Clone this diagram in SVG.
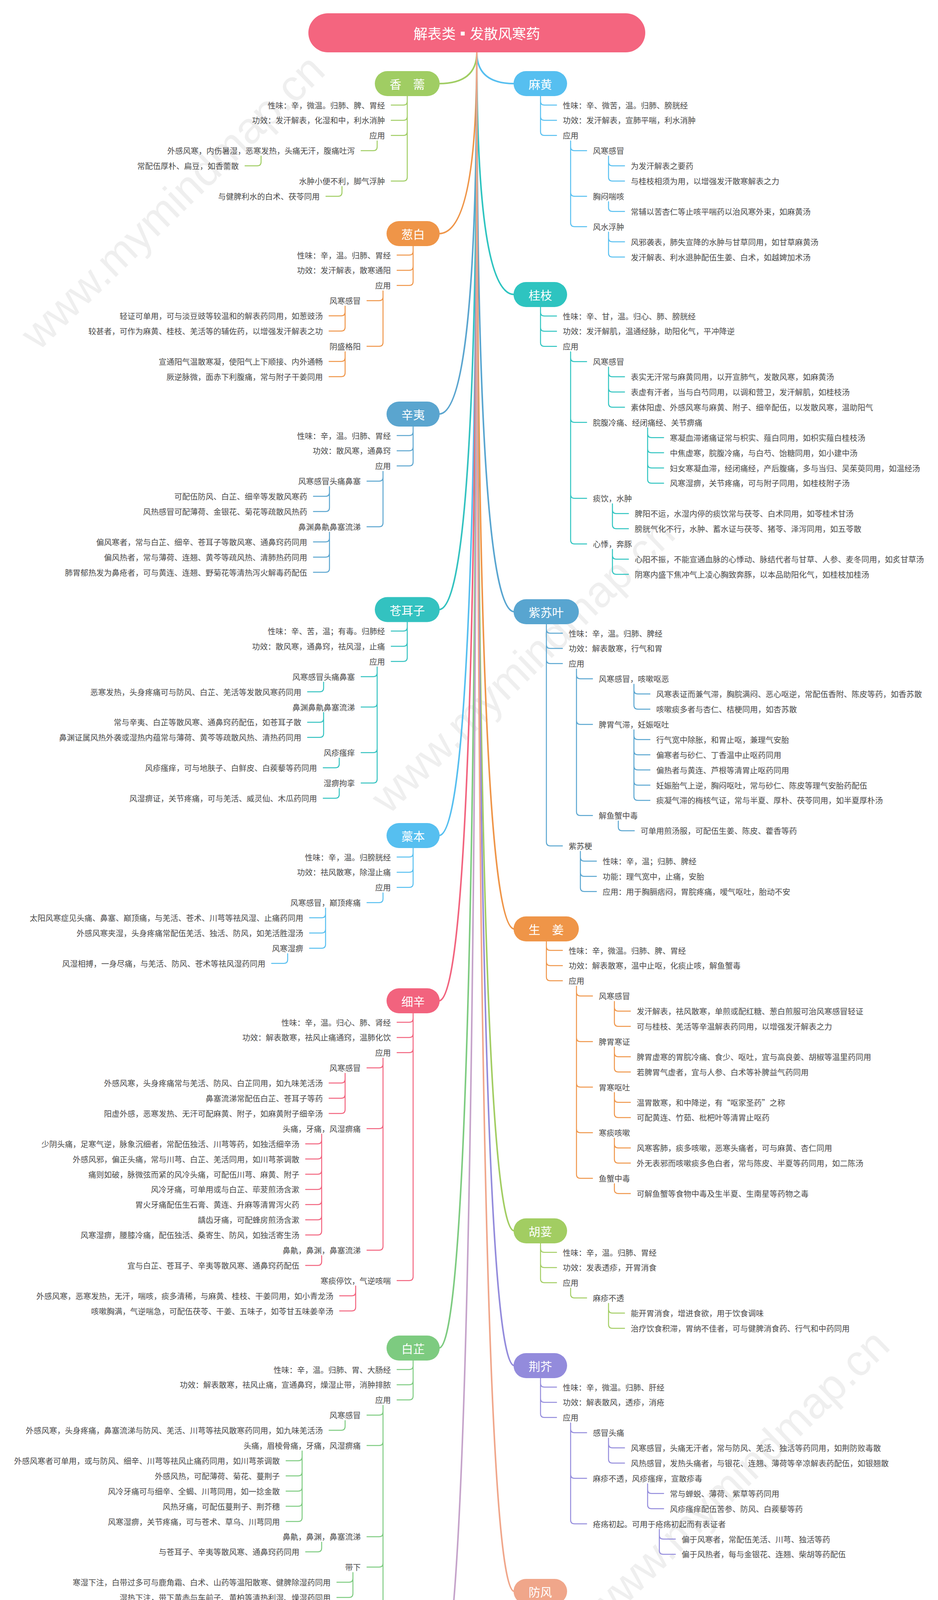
<svg xmlns="http://www.w3.org/2000/svg" width="2400" height="4963" viewBox="0 0 2400 4963">
<style>
text{font-family:"Noto Sans CJK SC","Noto Sans CJK JP",sans-serif;font-size:20px;fill:#4a4a4a;dominant-baseline:central}
.L{text-anchor:end}
.R{text-anchor:start}
.lb{font-size:30px;fill:#fff;text-anchor:middle}
.ttl{font-size:36px;fill:#fff;text-anchor:middle}
.ft{font-size:26px;fill:#fff;text-anchor:middle}
.wm{font-family:"Liberation Sans",Arial,sans-serif;font-size:112px;fill:#efefef;text-anchor:middle}
.br{fill:none;stroke-width:2.5;stroke-linecap:round;stroke-linejoin:round}
.cn{fill:none;stroke-width:4;stroke-linecap:round}
</style>
<rect width="2400" height="4963" fill="#ffffff"/>
<g id="watermark">
<text class="wm" transform="translate(441 516) rotate(-44)">www.mymindmap.cn</text>
<text class="wm" transform="translate(1337 1703) rotate(-44)">www.mymindmap.cn</text>
<text class="wm" transform="translate(1886 3780) rotate(-44)">www.mymindmap.cn</text>
</g>
<g id="connectors">
<g class="cn">
<path stroke="#a0cd63" d="M1220 134Q1220 214 1123 214"/>
<path stroke="#ef9548" d="M1220 134Q1220 598 1123 598"/>
<path stroke="#5aa5cf" d="M1220 134Q1220 1060 1123 1060"/>
<path stroke="#33c2c0" d="M1220 134Q1220 1560.5 1123 1560.5"/>
<path stroke="#56bff0" d="M1220 134Q1220 2139 1123 2139"/>
<path stroke="#f2637e" d="M1220 134Q1220 2562 1123 2562"/>
<path stroke="#7dcb80" d="M1220 134Q1220 3451 1123 3451"/>
<path stroke="#c5a3ca" d="M1220 134Q1220 4301 1123 4301"/>
<path stroke="#56bff0" d="M1220 134Q1220 214 1316 214"/>
<path stroke="#2ec4c0" d="M1220 134Q1220 754 1316 754"/>
<path stroke="#58a5d0" d="M1220 134Q1220 1566 1316 1566"/>
<path stroke="#ef9548" d="M1220 134Q1220 2378 1316 2378"/>
<path stroke="#a2cd62" d="M1220 134Q1220 3151 1316 3151"/>
<path stroke="#938bdc" d="M1220 134Q1220 3496 1316 3496"/>
<path stroke="#f0a68a" d="M1220 134Q1220 4074 1316 4074"/>
</g>
<g class="br" stroke="#56bff0" id="br-mahuang">
<path d="M1383 246V336.8M1383 259Q1383 269 1393 269H1424M1383 297.9Q1383 307.9 1393 307.9H1424M1383 336.8Q1383 346.8 1393 346.8H1424"/>
<path d="M1460 360.8V570.2M1460 375.7Q1460 385.7 1470 385.7H1501M1460 492.4Q1460 502.4 1470 502.4H1501M1460 570.2Q1460 580.2 1470 580.2H1501"/>
<path d="M1557 399.7V453.5M1557 414.6Q1557 424.6 1567 424.6H1598M1557 453.5Q1557 463.5 1567 463.5H1598"/>
<path d="M1557 516.4V531.3Q1557 541.3 1567 541.3H1598"/>
<path d="M1557 594.2V648M1557 609.1Q1557 619.1 1567 619.1H1598M1557 648Q1557 658 1567 658H1598"/>
</g>
<g class="br" stroke="#2ec4c0" id="br-guizhi">
<path d="M1383 786V876.8M1383 799Q1383 809 1393 809H1424M1383 837.9Q1383 847.9 1393 847.9H1424M1383 876.8Q1383 886.8 1393 886.8H1424"/>
<path d="M1460 900.8V1382.5M1460 915.7Q1460 925.7 1470 925.7H1501M1460 1071.3Q1460 1081.3 1470 1081.3H1501M1460 1265.8Q1460 1275.8 1470 1275.8H1501M1460 1382.5Q1460 1392.5 1470 1392.5H1501"/>
<path d="M1557 939.7V1032.4M1557 954.6Q1557 964.6 1567 964.6H1598M1557 993.5Q1557 1003.5 1567 1003.5H1598M1557 1032.4Q1557 1042.4 1567 1042.4H1598"/>
<path d="M1657 1095.3V1226.9M1657 1110.2Q1657 1120.2 1667 1120.2H1698M1657 1149.1Q1657 1159.1 1667 1159.1H1698M1657 1188Q1657 1198 1667 1198H1698M1657 1226.9Q1657 1236.9 1667 1236.9H1698"/>
<path d="M1567 1289.8V1343.6M1567 1304.7Q1567 1314.7 1577 1314.7H1608M1567 1343.6Q1567 1353.6 1577 1353.6H1608"/>
<path d="M1567 1406.5V1460.3M1567 1421.4Q1567 1431.4 1577 1431.4H1608M1567 1460.3Q1567 1470.3 1577 1470.3H1608"/>
</g>
<g class="br" stroke="#58a5d0" id="br-zisuye">
<path d="M1398 1598V2155.6M1398 1611Q1398 1621 1408 1621H1439M1398 1649.9Q1398 1659.9 1408 1659.9H1439M1398 1688.8Q1398 1698.8 1408 1698.8H1439M1398 2155.6Q1398 2165.6 1408 2165.6H1439"/>
<path d="M1475 1712.8V2077.8M1475 1727.7Q1475 1737.7 1485 1737.7H1516M1475 1844.4Q1475 1854.4 1485 1854.4H1516M1475 2077.8Q1475 2087.8 1485 2087.8H1516"/>
<path d="M1622 1751.7V1805.5M1622 1766.6Q1622 1776.6 1632 1776.6H1663M1622 1805.5Q1622 1815.5 1632 1815.5H1663"/>
<path d="M1622 1868.4V2038.9M1622 1883.3Q1622 1893.3 1632 1893.3H1663M1622 1922.2Q1622 1932.2 1632 1932.2H1663M1622 1961.1Q1622 1971.1 1632 1971.1H1663M1622 2000Q1622 2010 1632 2010H1663M1622 2038.9Q1622 2048.9 1632 2048.9H1663"/>
<path d="M1582 2101.8V2116.7Q1582 2126.7 1592 2126.7H1623"/>
<path d="M1485 2179.6V2272.3M1485 2194.5Q1485 2204.5 1495 2204.5H1526M1485 2233.4Q1485 2243.4 1495 2243.4H1526M1485 2272.3Q1485 2282.3 1495 2282.3H1526"/>
</g>
<g class="br" stroke="#ef9548" id="br-shengjiang">
<path d="M1398 2410V2500.8M1398 2423Q1398 2433 1408 2433H1439M1398 2461.9Q1398 2471.9 1408 2471.9H1439M1398 2500.8Q1398 2510.8 1408 2510.8H1439"/>
<path d="M1475 2524.8V3006.5M1475 2539.7Q1475 2549.7 1485 2549.7H1516M1475 2656.4Q1475 2666.4 1485 2666.4H1516M1475 2773.1Q1475 2783.1 1485 2783.1H1516M1475 2889.8Q1475 2899.8 1485 2899.8H1516M1475 3006.5Q1475 3016.5 1485 3016.5H1516"/>
<path d="M1572 2563.7V2617.5M1572 2578.6Q1572 2588.6 1582 2588.6H1613M1572 2617.5Q1572 2627.5 1582 2627.5H1613"/>
<path d="M1572 2680.4V2734.2M1572 2695.3Q1572 2705.3 1582 2705.3H1613M1572 2734.2Q1572 2744.2 1582 2744.2H1613"/>
<path d="M1572 2797.1V2850.9M1572 2812Q1572 2822 1582 2822H1613M1572 2850.9Q1572 2860.9 1582 2860.9H1613"/>
<path d="M1572 2913.8V2967.6M1572 2928.7Q1572 2938.7 1582 2938.7H1613M1572 2967.6Q1572 2977.6 1582 2977.6H1613"/>
<path d="M1572 3030.5V3045.4Q1572 3055.4 1582 3055.4H1613"/>
</g>
<g class="br" stroke="#a2cd62" id="br-husui">
<path d="M1383 3183V3273.8M1383 3196Q1383 3206 1393 3206H1424M1383 3234.9Q1383 3244.9 1393 3244.9H1424M1383 3273.8Q1383 3283.8 1393 3283.8H1424"/>
<path d="M1460 3297.8V3312.7Q1460 3322.7 1470 3322.7H1501"/>
<path d="M1557 3336.7V3390.5M1557 3351.6Q1557 3361.6 1567 3361.6H1598M1557 3390.5Q1557 3400.5 1567 3400.5H1598"/>
</g>
<g class="br" stroke="#938bdc" id="br-jingjie">
<path d="M1383 3528V3618.8M1383 3541Q1383 3551 1393 3551H1424M1383 3579.9Q1383 3589.9 1393 3589.9H1424M1383 3618.8Q1383 3628.8 1393 3628.8H1424"/>
<path d="M1460 3642.8V3891.1M1460 3657.7Q1460 3667.7 1470 3667.7H1501M1460 3774.4Q1460 3784.4 1470 3784.4H1501M1460 3891.1Q1460 3901.1 1470 3901.1H1501"/>
<path d="M1557 3681.7V3735.5M1557 3696.6Q1557 3706.6 1567 3706.6H1598M1557 3735.5Q1557 3745.5 1567 3745.5H1598"/>
<path d="M1657 3798.4V3852.2M1657 3813.3Q1657 3823.3 1667 3823.3H1698M1657 3852.2Q1657 3862.2 1667 3862.2H1698"/>
<path d="M1687 3915.1V3968.9M1687 3930Q1687 3940 1697 3940H1728M1687 3968.9Q1687 3978.9 1697 3978.9H1728"/>
</g>
<g class="br" stroke="#f0a68a" id="br-fangfeng">
<path d="M1383 4106V4196.8M1383 4119Q1383 4129 1393 4129H1424M1383 4157.9Q1383 4167.9 1393 4167.9H1424M1383 4196.8Q1383 4206.8 1393 4206.8H1424"/>
<path d="M1460 4220.8V4780.3M1460 4235.7Q1460 4245.7 1470 4245.7H1501M1460 4430.2Q1460 4440.2 1470 4440.2H1501M1460 4546.9Q1460 4556.9 1470 4556.9H1501M1460 4780.3Q1460 4790.3 1470 4790.3H1501"/>
<path d="M1557 4259.7V4391.3M1557 4274.6Q1557 4284.6 1567 4284.6H1598M1557 4313.5Q1557 4323.5 1567 4323.5H1598M1557 4352.4Q1557 4362.4 1567 4362.4H1598M1557 4391.3Q1557 4401.3 1567 4401.3H1598"/>
<path d="M1557 4454.2V4508M1557 4469.1Q1557 4479.1 1567 4479.1H1598M1557 4508Q1557 4518 1567 4518H1598"/>
<path d="M1557 4570.9V4741.4M1557 4585.8Q1557 4595.8 1567 4595.8H1598M1557 4624.7Q1557 4634.7 1567 4634.7H1598M1557 4663.6Q1557 4673.6 1567 4673.6H1598M1557 4702.5Q1557 4712.5 1567 4712.5H1598M1557 4741.4Q1557 4751.4 1567 4751.4H1598"/>
<path d="M1547 4804.3V4819.2Q1547 4829.2 1557 4829.2H1588"/>
</g>
<g class="br" stroke="#a0cd63" id="br-xiangru">
<path d="M1042 246V453.5M1042 259Q1042 269 1032 269H1001M1042 297.9Q1042 307.9 1032 307.9H1001M1042 336.8Q1042 346.8 1032 346.8H1001M1042 453.5Q1042 463.5 1032 463.5H1001"/>
<path d="M965 360.8V375.7Q965 385.7 955 385.7H924"/>
<path d="M668 399.7V414.6Q668 424.6 658 424.6H627"/>
<path d="M875 477.5V492.4Q875 502.4 865 502.4H834"/>
</g>
<g class="br" stroke="#ef9548" id="br-congbai">
<path d="M1057 630V720.8M1057 643Q1057 653 1047 653H1016M1057 681.9Q1057 691.9 1047 691.9H1016M1057 720.8Q1057 730.8 1047 730.8H1016"/>
<path d="M980 744.8V876.4M980 759.7Q980 769.7 970 769.7H939M980 876.4Q980 886.4 970 886.4H939"/>
<path d="M883 783.7V837.5M883 798.6Q883 808.6 873 808.6H842M883 837.5Q883 847.5 873 847.5H842"/>
<path d="M883 900.4V954.2M883 915.3Q883 925.3 873 925.3H842M883 954.2Q883 964.2 873 964.2H842"/>
</g>
<g class="br" stroke="#5aa5cf" id="br-xinyi">
<path d="M1057 1092V1182.8M1057 1105Q1057 1115 1047 1115H1016M1057 1143.9Q1057 1153.9 1047 1153.9H1016M1057 1182.8Q1057 1192.8 1047 1192.8H1016"/>
<path d="M980 1206.8V1338.4M980 1221.7Q980 1231.7 970 1231.7H939M980 1338.4Q980 1348.4 970 1348.4H939"/>
<path d="M843 1245.7V1299.5M843 1260.6Q843 1270.6 833 1270.6H802M843 1299.5Q843 1309.5 833 1309.5H802"/>
<path d="M843 1362.4V1455.1M843 1377.3Q843 1387.3 833 1387.3H802M843 1416.2Q843 1426.2 833 1426.2H802M843 1455.1Q843 1465.1 833 1465.1H802"/>
</g>
<g class="br" stroke="#33c2c0" id="br-cangerzi">
<path d="M1042 1592.5V1683.3M1042 1605.5Q1042 1615.5 1032 1615.5H1001M1042 1644.4Q1042 1654.4 1032 1654.4H1001M1042 1683.3Q1042 1693.3 1032 1693.3H1001"/>
<path d="M965 1707.3V1994.5M965 1722.2Q965 1732.2 955 1732.2H924M965 1800Q965 1810 955 1810H924M965 1916.7Q965 1926.7 955 1926.7H924M965 1994.5Q965 2004.5 955 2004.5H924"/>
<path d="M828 1746.2V1761.1Q828 1771.1 818 1771.1H787"/>
<path d="M828 1824V1877.8M828 1838.9Q828 1848.9 818 1848.9H787M828 1877.8Q828 1887.8 818 1887.8H787"/>
<path d="M868 1940.7V1955.6Q868 1965.6 858 1965.6H827"/>
<path d="M868 2018.5V2033.4Q868 2043.4 858 2043.4H827"/>
</g>
<g class="br" stroke="#56bff0" id="br-gaoben">
<path d="M1057 2171V2261.8M1057 2184Q1057 2194 1047 2194H1016M1057 2222.9Q1057 2232.9 1047 2232.9H1016M1057 2261.8Q1057 2271.8 1047 2271.8H1016"/>
<path d="M980 2285.8V2300.7Q980 2310.7 970 2310.7H939"/>
<path d="M833 2324.7V2417.4M833 2339.6Q833 2349.6 823 2349.6H792M833 2378.5Q833 2388.5 823 2388.5H792M833 2417.4Q833 2427.4 823 2427.4H792"/>
<path d="M736 2441.4V2456.3Q736 2466.3 726 2466.3H695"/>
</g>
<g class="br" stroke="#f2637e" id="br-xixin">
<path d="M1057 2594V3268.3M1057 2607Q1057 2617 1047 2617H1016M1057 2645.9Q1057 2655.9 1047 2655.9H1016M1057 2684.8Q1057 2694.8 1047 2694.8H1016M1057 3268.3Q1057 3278.3 1047 3278.3H1016"/>
<path d="M980 2708.8V3190.5M980 2723.7Q980 2733.7 970 2733.7H939M980 2879.3Q980 2889.3 970 2889.3H939M980 3190.5Q980 3200.5 970 3200.5H939"/>
<path d="M883 2747.7V2840.4M883 2762.6Q883 2772.6 873 2772.6H842M883 2801.5Q883 2811.5 873 2811.5H842M883 2840.4Q883 2850.4 873 2850.4H842"/>
<path d="M823 2903.3V3151.6M823 2918.2Q823 2928.2 813 2928.2H782M823 2957.1Q823 2967.1 813 2967.1H782M823 2996Q823 3006 813 3006H782M823 3034.9Q823 3044.9 813 3044.9H782M823 3073.8Q823 3083.8 813 3083.8H782M823 3112.7Q823 3122.7 813 3122.7H782M823 3151.6Q823 3161.6 813 3161.6H782"/>
<path d="M823 3214.5V3229.4Q823 3239.4 813 3239.4H782"/>
<path d="M910 3292.3V3346.1M910 3307.2Q910 3317.2 900 3317.2H869M910 3346.1Q910 3356.1 900 3356.1H869"/>
</g>
<g class="br" stroke="#7dcb80" id="br-baizhi">
<path d="M1057 3483V3573.8M1057 3496Q1057 3506 1047 3506H1016M1057 3534.9Q1057 3544.9 1047 3544.9H1016M1057 3573.8Q1057 3583.8 1047 3583.8H1016"/>
<path d="M980 3597.8V4118.4M980 3612.7Q980 3622.7 970 3622.7H939M980 3690.5Q980 3700.5 970 3700.5H939M980 3923.9Q980 3933.9 970 3933.9H939M980 4001.7Q980 4011.7 970 4011.7H939M980 4118.4Q980 4128.4 970 4128.4H939"/>
<path d="M883 3636.7V3651.6Q883 3661.6 873 3661.6H842"/>
<path d="M773 3714.5V3885M773 3729.4Q773 3739.4 763 3739.4H732M773 3768.3Q773 3778.3 763 3778.3H732M773 3807.2Q773 3817.2 763 3817.2H732M773 3846.1Q773 3856.1 763 3856.1H732M773 3885Q773 3895 763 3895H732"/>
<path d="M823 3947.9V3962.8Q823 3972.8 813 3972.8H782"/>
<path d="M903 4025.7V4079.5M903 4040.6Q903 4050.6 893 4050.6H862M903 4079.5Q903 4089.5 893 4089.5H862"/>
<path d="M883 4142.4V4196.2M883 4157.3Q883 4167.3 873 4167.3H842M883 4196.2Q883 4206.2 873 4206.2H842"/>
</g>
<g class="br" stroke="#c5a3ca" id="br-qianghuo">
<path d="M1057 4333V4423.8M1057 4346Q1057 4356 1047 4356H1016M1057 4384.9Q1057 4394.9 1047 4394.9H1016M1057 4423.8Q1057 4433.8 1047 4433.8H1016"/>
<path d="M980 4447.8V4579.4M980 4462.7Q980 4472.7 970 4472.7H939M980 4579.4Q980 4589.4 970 4589.4H939"/>
<path d="M833 4486.7V4540.5M833 4501.6Q833 4511.6 823 4511.6H792M833 4540.5Q833 4550.5 823 4550.5H792"/>
<path d="M833 4603.4V4657.2M833 4618.3Q833 4628.3 823 4628.3H792M833 4657.2Q833 4667.2 823 4667.2H792"/>
</g>
</g>
<g id="root">
<rect x="789" y="34" width="862" height="100" rx="50" fill="#f4657f"/>
<text class="ttl" x="1220" y="84">解表类▪发散风寒药</text>
</g>
<g id="n-mahuang" class="R">
<rect x="1314" y="182" width="137" height="64" rx="32" fill="#56bff0"/>
<text class="lb" x="1382.5" y="214">麻黄</text>
<text x="1440" y="269">性味：辛、微苦，温。归肺、膀胱经</text>
<text x="1440" y="307.9">功效：发汗解表，宣肺平喘，利水消肿</text>
<text x="1440" y="346.8">应用</text>
<text x="1517" y="385.7">风寒感冒</text>
<text x="1614" y="424.6">为发汗解表之要药</text>
<text x="1614" y="463.5">与桂枝相须为用，以增强发汗散寒解表之力</text>
<text x="1517" y="502.4">胸闷喘咳</text>
<text x="1614" y="541.3">常辅以苦杏仁等止咳平喘药以治风寒外束，如麻黄汤</text>
<text x="1517" y="580.2">风水浮肿</text>
<text x="1614" y="619.1">风邪袭表，肺失宣降的水肿与甘草同用，如甘草麻黄汤</text>
<text x="1614" y="658">发汗解表、利水退肿配伍生姜、白术，如越婢加术汤</text>
</g>
<g id="n-guizhi" class="R">
<rect x="1314" y="722" width="137" height="64" rx="32" fill="#2ec4c0"/>
<text class="lb" x="1382.5" y="754">桂枝</text>
<text x="1440" y="809">性味：辛、甘，温。归心、肺、膀胱经</text>
<text x="1440" y="847.9">功效：发汗解肌，温通经脉，助阳化气，平冲降逆</text>
<text x="1440" y="886.8">应用</text>
<text x="1517" y="925.7">风寒感冒</text>
<text x="1614" y="964.6">表实无汗常与麻黄同用，以开宣肺气，发散风寒，如麻黄汤</text>
<text x="1614" y="1003.5">表虚有汗者，当与白芍同用，以调和营卫，发汗解肌，如桂枝汤</text>
<text x="1614" y="1042.4">素体阳虚、外感风寒与麻黄、附子、细辛配伍，以发散风寒，温助阳气</text>
<text x="1517" y="1081.3">脘腹冷痛、经闭痛经、关节痹痛</text>
<text x="1714" y="1120.2">寒凝血滞诸痛证常与枳实、薤白同用，如枳实薤白桂枝汤</text>
<text x="1714" y="1159.1">中焦虚寒，脘腹冷痛，与白芍、饴糖同用，如小建中汤</text>
<text x="1714" y="1198">妇女寒凝血滞，经闭痛经，产后腹痛，多与当归、吴茱萸同用，如温经汤</text>
<text x="1714" y="1236.9">风寒湿痹，关节疼痛，可与附子同用，如桂枝附子汤</text>
<text x="1517" y="1275.8">痰饮，水肿</text>
<text x="1624" y="1314.7">脾阳不运，水湿内停的痰饮常与茯苓、白术同用，如苓桂术甘汤</text>
<text x="1624" y="1353.6">膀胱气化不行，水肿、蓄水证与茯苓、猪苓、泽泻同用，如五苓散</text>
<text x="1517" y="1392.5">心悸，奔豚</text>
<text x="1624" y="1431.4">心阳不振，不能宣通血脉的心悸动、脉结代者与甘草、人参、麦冬同用，如炙甘草汤</text>
<text x="1624" y="1470.3">阴寒内盛下焦冲气上凌心胸致奔豚，以本品助阳化气，如桂枝加桂汤</text>
</g>
<g id="n-zisuye" class="R">
<rect x="1314" y="1534" width="167" height="64" rx="32" fill="#58a5d0"/>
<text class="lb" x="1397.5" y="1566">紫苏叶</text>
<text x="1455" y="1621">性味：辛，温。归肺、脾经</text>
<text x="1455" y="1659.9">功效：解表散寒，行气和胃</text>
<text x="1455" y="1698.8">应用</text>
<text x="1532" y="1737.7">风寒感冒，咳嗽呕恶</text>
<text x="1679" y="1776.6">风寒表证而兼气滞，胸脘满闷、恶心呕逆，常配伍香附、陈皮等药，如香苏散</text>
<text x="1679" y="1815.5">咳嗽痰多者与杏仁、桔梗同用，如杏苏散</text>
<text x="1532" y="1854.4">脾胃气滞，妊娠呕吐</text>
<text x="1679" y="1893.3">行气宽中除胀，和胃止呕，兼理气安胎</text>
<text x="1679" y="1932.2">偏寒者与砂仁、丁香温中止呕药同用</text>
<text x="1679" y="1971.1">偏热者与黄连、芦根等清胃止呕药同用</text>
<text x="1679" y="2010">妊娠胎气上逆，胸闷呕吐，常与砂仁、陈皮等理气安胎药配伍</text>
<text x="1679" y="2048.9">痰凝气滞的梅核气证，常与半夏、厚朴、茯苓同用，如半夏厚朴汤</text>
<text x="1532" y="2087.8">解鱼蟹中毒</text>
<text x="1639" y="2126.7">可单用煎汤服，可配伍生姜、陈皮、藿香等药</text>
<text x="1455" y="2165.6">紫苏梗</text>
<text x="1542" y="2204.5">性味：辛，温；归肺、脾经</text>
<text x="1542" y="2243.4">功能：理气宽中，止痛，安胎</text>
<text x="1542" y="2282.3">应用：用于胸膈痞闷，胃脘疼痛，嗳气呕吐，胎动不安</text>
</g>
<g id="n-shengjiang" class="R">
<rect x="1314" y="2346" width="167" height="64" rx="32" fill="#ef9548"/>
<text class="lb" x="1397.5" y="2378">生　姜</text>
<text x="1455" y="2433">性味：辛，微温。归肺、脾、胃经</text>
<text x="1455" y="2471.9">功效：解表散寒，温中止呕，化痰止咳，解鱼蟹毒</text>
<text x="1455" y="2510.8">应用</text>
<text x="1532" y="2549.7">风寒感冒</text>
<text x="1629" y="2588.6">发汗解表，祛风散寒，单煎或配红糖、葱白煎服可治风寒感冒轻证</text>
<text x="1629" y="2627.5">可与桂枝、羌活等辛温解表药同用，以增强发汗解表之力</text>
<text x="1532" y="2666.4">脾胃寒证</text>
<text x="1629" y="2705.3">脾胃虚寒的胃脘冷痛、食少、呕吐，宜与高良姜、胡椒等温里药同用</text>
<text x="1629" y="2744.2">若脾胃气虚者，宜与人参、白术等补脾益气药同用</text>
<text x="1532" y="2783.1">胃寒呕吐</text>
<text x="1629" y="2822">温胃散寒，和中降逆，有“呕家圣药”之称</text>
<text x="1629" y="2860.9">可配黄连、竹茹、枇杷叶等清胃止呕药</text>
<text x="1532" y="2899.8">寒痰咳嗽</text>
<text x="1629" y="2938.7">风寒客肺，痰多咳嗽，恶寒头痛者，可与麻黄、杏仁同用</text>
<text x="1629" y="2977.6">外无表邪而咳嗽痰多色白者，常与陈皮、半夏等药同用，如二陈汤</text>
<text x="1532" y="3016.5">鱼蟹中毒</text>
<text x="1629" y="3055.4">可解鱼蟹等食物中毒及生半夏、生南星等药物之毒</text>
</g>
<g id="n-husui" class="R">
<rect x="1314" y="3119" width="137" height="64" rx="32" fill="#a2cd62"/>
<text class="lb" x="1382.5" y="3151">胡荽</text>
<text x="1440" y="3206">性味：辛，温。归肺、胃经</text>
<text x="1440" y="3244.9">功效：发表透疹，开胃消食</text>
<text x="1440" y="3283.8">应用</text>
<text x="1517" y="3322.7">麻疹不透</text>
<text x="1614" y="3361.6">能开胃消食，增进食欲，用于饮食调味</text>
<text x="1614" y="3400.5">治疗饮食积滞，胃纳不佳者，可与健脾消食药、行气和中药同用</text>
</g>
<g id="n-jingjie" class="R">
<rect x="1314" y="3464" width="137" height="64" rx="32" fill="#938bdc"/>
<text class="lb" x="1382.5" y="3496">荆芥</text>
<text x="1440" y="3551">性味：辛，微温。归肺、肝经</text>
<text x="1440" y="3589.9">功效：解表散风，透疹，消疮</text>
<text x="1440" y="3628.8">应用</text>
<text x="1517" y="3667.7">感冒头痛</text>
<text x="1614" y="3706.6">风寒感冒，头痛无汗者，常与防风、羌活、独活等药同用，如荆防败毒散</text>
<text x="1614" y="3745.5">风热感冒，发热头痛者，与银花、连翘、薄荷等辛凉解表药配伍，如银翘散</text>
<text x="1517" y="3784.4">麻疹不透，风疹瘙痒，宣散疹毒</text>
<text x="1714" y="3823.3">常与蝉蜕、薄荷、紫草等药同用</text>
<text x="1714" y="3862.2">风疹瘙痒配伍苦参、防风、白蒺藜等药</text>
<text x="1517" y="3901.1">疮疡初起。可用于疮疡初起而有表证者</text>
<text x="1744" y="3940">偏于风寒者，常配伍羌活、川芎、独活等药</text>
<text x="1744" y="3978.9">偏于风热者，每与金银花、连翘、柴胡等药配伍</text>
</g>
<g id="n-fangfeng" class="R">
<rect x="1314" y="4042" width="137" height="64" rx="32" fill="#f0a68a"/>
<text class="lb" x="1382.5" y="4074">防风</text>
<text x="1440" y="4129">性味：辛、甘，微温。归膀胱、肝、脾经</text>
<text x="1440" y="4167.9">功效：祛风解表，胜湿止痛，止痉</text>
<text x="1440" y="4206.8">应用</text>
<text x="1517" y="4245.7">感冒头痛</text>
<text x="1614" y="4284.6">风寒表证，头痛身痛恶风寒者，配荆芥、羌活、独活同用，如荆防败毒散</text>
<text x="1614" y="4323.5">外感风湿，头痛如裹、身重肢痛与羌活、藁本、川芎同用，如羌活胜湿汤</text>
<text x="1614" y="4362.4">风热感冒，发热恶风、头痛、咽痛口渴，配薄荷、蝉蜕、连翘等辛凉解表药</text>
<text x="1614" y="4401.3">卫气不足，肌表不固的外感风邪，与黄芪、白术益卫固表药同用，如玉屏风散</text>
<text x="1517" y="4440.2">风湿痹痛</text>
<text x="1614" y="4479.1">肢节疼痛可配羌活、独活、姜黄等祛风湿、止痹痛药，如蠲痹汤</text>
<text x="1614" y="4518">风寒湿邪郁而化热，关节红肿热痛，可与地龙、薏苡仁、乌梢蛇同用</text>
<text x="1517" y="4556.9">风疹瘙痒</text>
<text x="1614" y="4595.8">风寒者，常与麻黄、白芷、苍耳子等配伍，如消风散</text>
<text x="1614" y="4634.7">风热者，常配伍薄荷、蝉蜕、僵蚕等药</text>
<text x="1614" y="4673.6">湿热者，与土茯苓、白鲜皮、赤小豆等同用</text>
<text x="1614" y="4712.5">血虚风燥者，常与当归、地黄等配伍，如消风散</text>
<text x="1614" y="4751.4">里实热结者，常配伍大黄、芒硝、黄芩等药，如防风通圣散</text>
<text x="1517" y="4790.3">破伤风</text>
<text x="1604" y="4829.2">常与天麻、天南星、白附子等祛风止痉药同用，如玉真散</text>
</g>
<g id="n-xiangru" class="L">
<rect x="959" y="182" width="166" height="64" rx="32" fill="#a0cd63"/>
<text class="lb" x="1042" y="214">香　薷</text>
<text x="985" y="269">性味：辛，微温。归肺、脾、胃经</text>
<text x="985" y="307.9">功效：发汗解表，化湿和中，利水消肿</text>
<text x="985" y="346.8">应用</text>
<text x="908" y="385.7">外感风寒，内伤暑湿，恶寒发热，头痛无汗，腹痛吐泻</text>
<text x="611" y="424.6">常配伍厚朴、扁豆，如香薷散</text>
<text x="985" y="463.5">水肿小便不利，脚气浮肿</text>
<text x="818" y="502.4">与健脾利水的白术、茯苓同用</text>
</g>
<g id="n-congbai" class="L">
<rect x="989" y="566" width="136" height="64" rx="32" fill="#ef9548"/>
<text class="lb" x="1057" y="598">葱白</text>
<text x="1000" y="653">性味：辛，温。归肺、胃经</text>
<text x="1000" y="691.9">功效：发汗解表，散寒通阳</text>
<text x="1000" y="730.8">应用</text>
<text x="923" y="769.7">风寒感冒</text>
<text x="826" y="808.6">轻证可单用，可与淡豆豉等较温和的解表药同用，如葱豉汤</text>
<text x="826" y="847.5">较甚者，可作为麻黄、桂枝、羌活等的辅佐药，以增强发汗解表之功</text>
<text x="923" y="886.4">阴盛格阳</text>
<text x="826" y="925.3">宣通阳气温散寒凝，使阳气上下顺接、内外通畅</text>
<text x="826" y="964.2">厥逆脉微，面赤下利腹痛，常与附子干姜同用</text>
</g>
<g id="n-xinyi" class="L">
<rect x="989" y="1028" width="136" height="64" rx="32" fill="#5aa5cf"/>
<text class="lb" x="1057" y="1060">辛夷</text>
<text x="1000" y="1115">性味：辛，温。归肺、胃经</text>
<text x="1000" y="1153.9">功效：散风寒，通鼻窍</text>
<text x="1000" y="1192.8">应用</text>
<text x="923" y="1231.7">风寒感冒头痛鼻塞</text>
<text x="786" y="1270.6">可配伍防风、白芷、细辛等发散风寒药</text>
<text x="786" y="1309.5">风热感冒可配薄荷、金银花、菊花等疏散风热药</text>
<text x="923" y="1348.4">鼻渊鼻鼽鼻塞流涕</text>
<text x="786" y="1387.3">偏风寒者，常与白芷、细辛、苍耳子等散风寒、通鼻窍药同用</text>
<text x="786" y="1426.2">偏风热者，常与薄荷、连翘、黄芩等疏风热、清肺热药同用</text>
<text x="786" y="1465.1">肺胃郁热发为鼻疮者，可与黄连、连翘、野菊花等清热泻火解毒药配伍</text>
</g>
<g id="n-cangerzi" class="L">
<rect x="959" y="1528.5" width="166" height="64" rx="32" fill="#33c2c0"/>
<text class="lb" x="1042" y="1560.5">苍耳子</text>
<text x="985" y="1615.5">性味：辛、苦，温；有毒。归肺经</text>
<text x="985" y="1654.4">功效：散风寒，通鼻窍，祛风湿，止痛</text>
<text x="985" y="1693.3">应用</text>
<text x="908" y="1732.2">风寒感冒头痛鼻塞</text>
<text x="771" y="1771.1">恶寒发热，头身疼痛可与防风、白芷、羌活等发散风寒药同用</text>
<text x="908" y="1810">鼻渊鼻鼽鼻塞流涕</text>
<text x="771" y="1848.9">常与辛夷、白芷等散风寒、通鼻窍药配伍，如苍耳子散</text>
<text x="771" y="1887.8">鼻渊证属风热外袭或湿热内蕴常与薄荷、黄芩等疏散风热、清热药同用</text>
<text x="908" y="1926.7">风疹瘙痒</text>
<text x="811" y="1965.6">风疹瘙痒，可与地肤子、白鲜皮、白蒺藜等药同用</text>
<text x="908" y="2004.5">湿痹拘挛</text>
<text x="811" y="2043.4">风湿痹证，关节疼痛，可与羌活、威灵仙、木瓜药同用</text>
</g>
<g id="n-gaoben" class="L">
<rect x="989" y="2107" width="136" height="64" rx="32" fill="#56bff0"/>
<text class="lb" x="1057" y="2139">藁本</text>
<text x="1000" y="2194">性味：辛，温。归膀胱经</text>
<text x="1000" y="2232.9">功效：祛风散寒，除湿止痛</text>
<text x="1000" y="2271.8">应用</text>
<text x="923" y="2310.7">风寒感冒，巅顶疼痛</text>
<text x="776" y="2349.6">太阳风寒症见头痛、鼻塞、巅顶痛，与羌活、苍术、川芎等祛风湿、止痛药同用</text>
<text x="776" y="2388.5">外感风寒夹湿，头身疼痛常配伍羌活、独活、防风，如羌活胜湿汤</text>
<text x="776" y="2427.4">风寒湿痹</text>
<text x="679" y="2466.3">风湿相搏，一身尽痛，与羌活、防风、苍术等祛风湿药同用</text>
</g>
<g id="n-xixin" class="L">
<rect x="989" y="2530" width="136" height="64" rx="32" fill="#f2637e"/>
<text class="lb" x="1057" y="2562">细辛</text>
<text x="1000" y="2617">性味：辛，温。归心、肺、肾经</text>
<text x="1000" y="2655.9">功效：解表散寒，祛风止痛通窍，温肺化饮</text>
<text x="1000" y="2694.8">应用</text>
<text x="923" y="2733.7">风寒感冒</text>
<text x="826" y="2772.6">外感风寒，头身疼痛常与羌活、防风、白芷同用，如九味羌活汤</text>
<text x="826" y="2811.5">鼻塞流涕常配伍白芷、苍耳子等药</text>
<text x="826" y="2850.4">阳虚外感，恶寒发热、无汗可配麻黄、附子，如麻黄附子细辛汤</text>
<text x="923" y="2889.3">头痛，牙痛，风湿痹痛</text>
<text x="766" y="2928.2">少阴头痛，足寒气逆，脉象沉细者，常配伍独活、川芎等药，如独活细辛汤</text>
<text x="766" y="2967.1">外感风邪，偏正头痛，常与川芎、白芷、羌活同用，如川芎茶调散</text>
<text x="766" y="3006">痛则如破，脉微弦而紧的风冷头痛，可配伍川芎、麻黄、附子</text>
<text x="766" y="3044.9">风冷牙痛，可单用或与白芷、荜茇煎汤含漱</text>
<text x="766" y="3083.8">胃火牙痛配伍生石膏、黄连、升麻等清胃泻火药</text>
<text x="766" y="3122.7">龋齿牙痛，可配蜂房煎汤含漱</text>
<text x="766" y="3161.6">风寒湿痹，腰膝冷痛，配伍独活、桑寄生、防风，如独活寄生汤</text>
<text x="923" y="3200.5">鼻鼽，鼻渊，鼻塞流涕</text>
<text x="766" y="3239.4">宜与白芷、苍耳子、辛夷等散风寒、通鼻窍药配伍</text>
<text x="1000" y="3278.3">寒痰停饮，气逆咳喘</text>
<text x="853" y="3317.2">外感风寒，恶寒发热，无汗，喘咳，痰多清稀，与麻黄、桂枝、干姜同用，如小青龙汤</text>
<text x="853" y="3356.1">咳嗽胸满，气逆喘急，可配伍茯苓、干姜、五味子，如苓甘五味姜辛汤</text>
</g>
<g id="n-baizhi" class="L">
<rect x="989" y="3419" width="136" height="64" rx="32" fill="#7dcb80"/>
<text class="lb" x="1057" y="3451">白芷</text>
<text x="1000" y="3506">性味：辛，温。归肺、胃、大肠经</text>
<text x="1000" y="3544.9">功效：解表散寒，祛风止痛，宣通鼻窍，燥湿止带，消肿排脓</text>
<text x="1000" y="3583.8">应用</text>
<text x="923" y="3622.7">风寒感冒</text>
<text x="826" y="3661.6">外感风寒，头身疼痛，鼻塞流涕与防风、羌活、川芎等祛风散寒药同用，如九味羌活汤</text>
<text x="923" y="3700.5">头痛，眉棱骨痛，牙痛，风湿痹痛</text>
<text x="716" y="3739.4">外感风寒者可单用，或与防风、细辛、川芎等祛风止痛药同用，如川芎茶调散</text>
<text x="716" y="3778.3">外感风热，可配薄荷、菊花、蔓荆子</text>
<text x="716" y="3817.2">风冷牙痛可与细辛、全蝎、川芎同用，如一捻金散</text>
<text x="716" y="3856.1">风热牙痛，可配伍蔓荆子、荆芥穗</text>
<text x="716" y="3895">风寒湿痹，关节疼痛，可与苍术、草乌、川芎同用</text>
<text x="923" y="3933.9">鼻鼽，鼻渊，鼻塞流涕</text>
<text x="766" y="3972.8">与苍耳子、辛夷等散风寒、通鼻窍药同用</text>
<text x="923" y="4011.7">带下</text>
<text x="846" y="4050.6">寒湿下注，白带过多可与鹿角霜、白术、山药等温阳散寒、健脾除湿药同用</text>
<text x="846" y="4089.5">湿热下注，带下黄赤与车前子、黄柏等清热利湿、燥湿药同用</text>
<text x="923" y="4128.4">疮疡肿痛</text>
<text x="826" y="4167.3">红肿热痛与金银花、当归、穿山甲配伍，如仙方活命饮</text>
<text x="826" y="4206.2">脓成难溃者，常与人参、黄芪、当归等益气补血药同用，如托里透脓散</text>
</g>
<g id="n-qianghuo" class="L">
<rect x="989" y="4269" width="136" height="64" rx="32" fill="#c5a3ca"/>
<text class="lb" x="1057" y="4301">羌活</text>
<text x="1000" y="4356">性味：辛、苦，温。归膀胱、肾经</text>
<text x="1000" y="4394.9">功效：解表散寒，祛风除湿，止痛</text>
<text x="1000" y="4433.8">应用</text>
<text x="923" y="4472.7">风寒感冒，头痛项强</text>
<text x="776" y="4511.6">恶寒发热、肌表无汗、肢体酸痛与防风、细辛、川芎祛风解表药同用，如九味羌活汤</text>
<text x="776" y="4550.5">风湿在表，腰背酸重可配独活、藁本、防风等药，如羌活胜湿汤</text>
<text x="923" y="4589.4">风寒湿痹，肩背酸痛</text>
<text x="776" y="4628.3">上半身风寒湿痹、肩背酸痛常与防风、姜黄、当归等药同用，如蠲痹汤</text>
<text x="776" y="4667.2">风寒、风湿致头风痛，可与川芎、白芷、藁本等药配伍，如羌活芎藁汤</text>
</g>
<g id="footer">
<rect x="966" y="4873" width="456" height="54" rx="27" fill="#e9546b" stroke="#f0a68a" stroke-width="4"/>
<text class="ft" x="1194" y="4900">制图：大漠风</text>
</g>
</svg>
